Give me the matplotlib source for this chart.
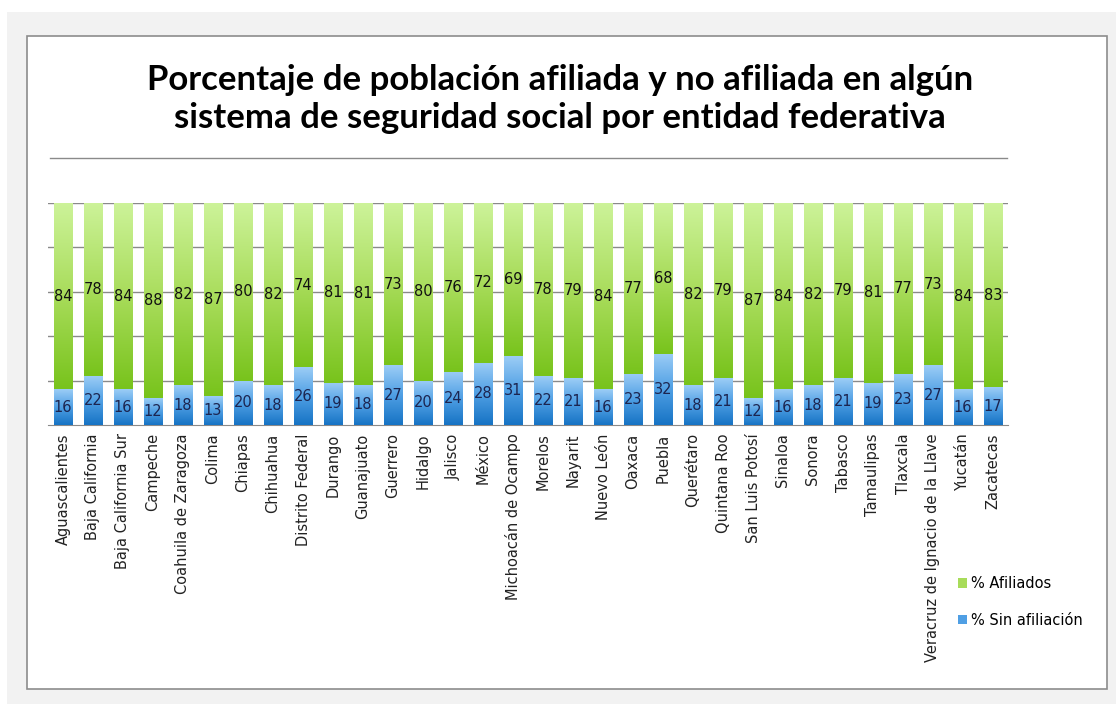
import numpy as np
import matplotlib
matplotlib.use("Agg")
import matplotlib.pyplot as plt
from matplotlib.patches import Rectangle, Patch
from matplotlib.colors import LinearSegmentedColormap

# % de población por entidad federativa
entidades = [
    "Aguascalientes", "Baja California", "Baja California Sur", "Campeche",
    "Coahuila de Zaragoza", "Colima", "Chiapas", "Chihuahua",
    "Distrito Federal", "Durango", "Guanajuato", "Guerrero", "Hidalgo",
    "Jalisco", "México", "Michoacán de Ocampo", "Morelos", "Nayarit",
    "Nuevo León", "Oaxaca", "Puebla", "Querétaro", "Quintana Roo",
    "San Luis Potosí", "Sinaloa", "Sonora", "Tabasco", "Tamaulipas",
    "Tlaxcala", "Veracruz de Ignacio de la Llave", "Yucatán", "Zacatecas",
]
afiliados = [84, 78, 84, 88, 82, 87, 80, 82, 74, 81, 81, 73, 80, 76, 72, 69,
             78, 79, 84, 77, 68, 82, 79, 87, 84, 82, 79, 81, 77, 73, 84, 83]
sin_afiliacion = [16, 22, 16, 12, 18, 13, 20, 18, 26, 19, 18, 27, 20, 24, 28, 31,
                  22, 21, 16, 23, 32, 18, 21, 12, 16, 18, 21, 19, 23, 27, 16, 17]

afil = np.array(afiliados, dtype=float)
sin = np.array(sin_afiliacion, dtype=float)
total = afil + sin
# barras apiladas al 100 %
sin_pct = sin / total * 100
afil_pct = afil / total * 100

green_cmap = LinearSegmentedColormap.from_list("verde", ["#78c31c", "#a8dc5a", "#cdf39a"])
blue_cmap = LinearSegmentedColormap.from_list("azul", ["#1673c4", "#4f9fe4", "#9ccdf6"])

W, H = 1116, 704
fig = plt.figure(figsize=(W / 100, H / 100), dpi=100)
fig.patch.set_facecolor("white")

# marco gris exterior y recuadro blanco del gráfico
fig.patches.append(Rectangle((7 / W, 0), 1 - 7 / W, 1 - 12 / H, transform=fig.transFigure,
                             facecolor="#f2f2f2", edgecolor="none", zorder=0))
fig.patches.append(Rectangle((27 / W, 1 - 689 / H), (1107 - 27) / W, (689 - 36) / H,
                             transform=fig.transFigure, facecolor="white",
                             edgecolor="#8c8c8c", linewidth=1.2, zorder=0))

ax = fig.add_axes([48 / W, 1 - 425 / H, (1008 - 48) / W, (425 - 203) / H])
ax.set_zorder(2)
ax.set_facecolor("none")
x = np.arange(len(entidades))
width = 0.63

for v in [20, 40, 60, 80, 100]:
    ax.axhline(v, color="#8a8a8a", linewidth=1.0, zorder=0)

bars_sin = ax.bar(x, sin_pct, width, color="#4f9fe4", zorder=2, label="% Sin afiliación")
bars_afil = ax.bar(x, afil_pct, width, bottom=sin_pct, color="#a8dc5a", zorder=2,
                   label="% Afiliados")

# relleno degradado dentro de cada segmento
grad = np.linspace(0, 1, 256).reshape(-1, 1)
for bars, cmap in [(bars_sin, blue_cmap), (bars_afil, green_cmap)]:
    for b in bars:
        x0, y0 = b.get_x(), b.get_y()
        ax.imshow(grad, cmap=cmap, origin="lower", aspect="auto", zorder=3,
                  extent=(x0, x0 + b.get_width(), y0, y0 + b.get_height()))
        b.set_visible(False)
ax.set_xlim(-0.5, len(entidades) - 0.5)
ax.set_ylim(0, 100)

# etiquetas de valor en el centro de cada segmento
for i in range(len(entidades)):
    ax.text(x[i], sin_pct[i] / 2, f"{sin_afiliacion[i]:d}", ha="center", va="center",
            fontsize=10.5, color="#1c2550", zorder=4)
    ax.text(x[i], sin_pct[i] + afil_pct[i] / 2, f"{afiliados[i]:d}", ha="center",
            va="center", fontsize=10.5, color="#111111", zorder=4)

for s in ["top", "right", "left"]:
    ax.spines[s].set_visible(False)
ax.spines["bottom"].set_color("#8a8a8a")
ax.set_yticks([])
ax.set_xticks(x)
ax.set_xticklabels(entidades, rotation=90, fontsize=10.5, color="#222222")
ax.tick_params(axis="x", length=0, pad=6)

fig.text(0.502, 1 - 80 / H, "Porcentaje de población afiliada y no afiliada en algún",
         ha="center", va="center", fontsize=25, fontweight="bold", family="Lato")
fig.text(0.502, 1 - 118 / H, "sistema de seguridad social por entidad federativa",
         ha="center", va="center", fontsize=25, fontweight="bold", family="Lato")
fig.add_artist(plt.Line2D([50 / W, 1007 / W], [1 - 158 / H, 1 - 158 / H],
                          transform=fig.transFigure, color="#8a8a8a", linewidth=1))

handles = [Patch(facecolor="#a8dc5a", label="% Afiliados"),
           Patch(facecolor="#4f9fe4", label="% Sin afiliación")]
fig.legend(handles=handles, loc="upper left", bbox_to_anchor=(945 / W, 1 - 563 / H),
           frameon=False, fontsize=10.5, handlelength=0.6, handleheight=0.6,
           handletextpad=0.3, labelspacing=1.5)

fig.savefig("out.png", dpi=100)
